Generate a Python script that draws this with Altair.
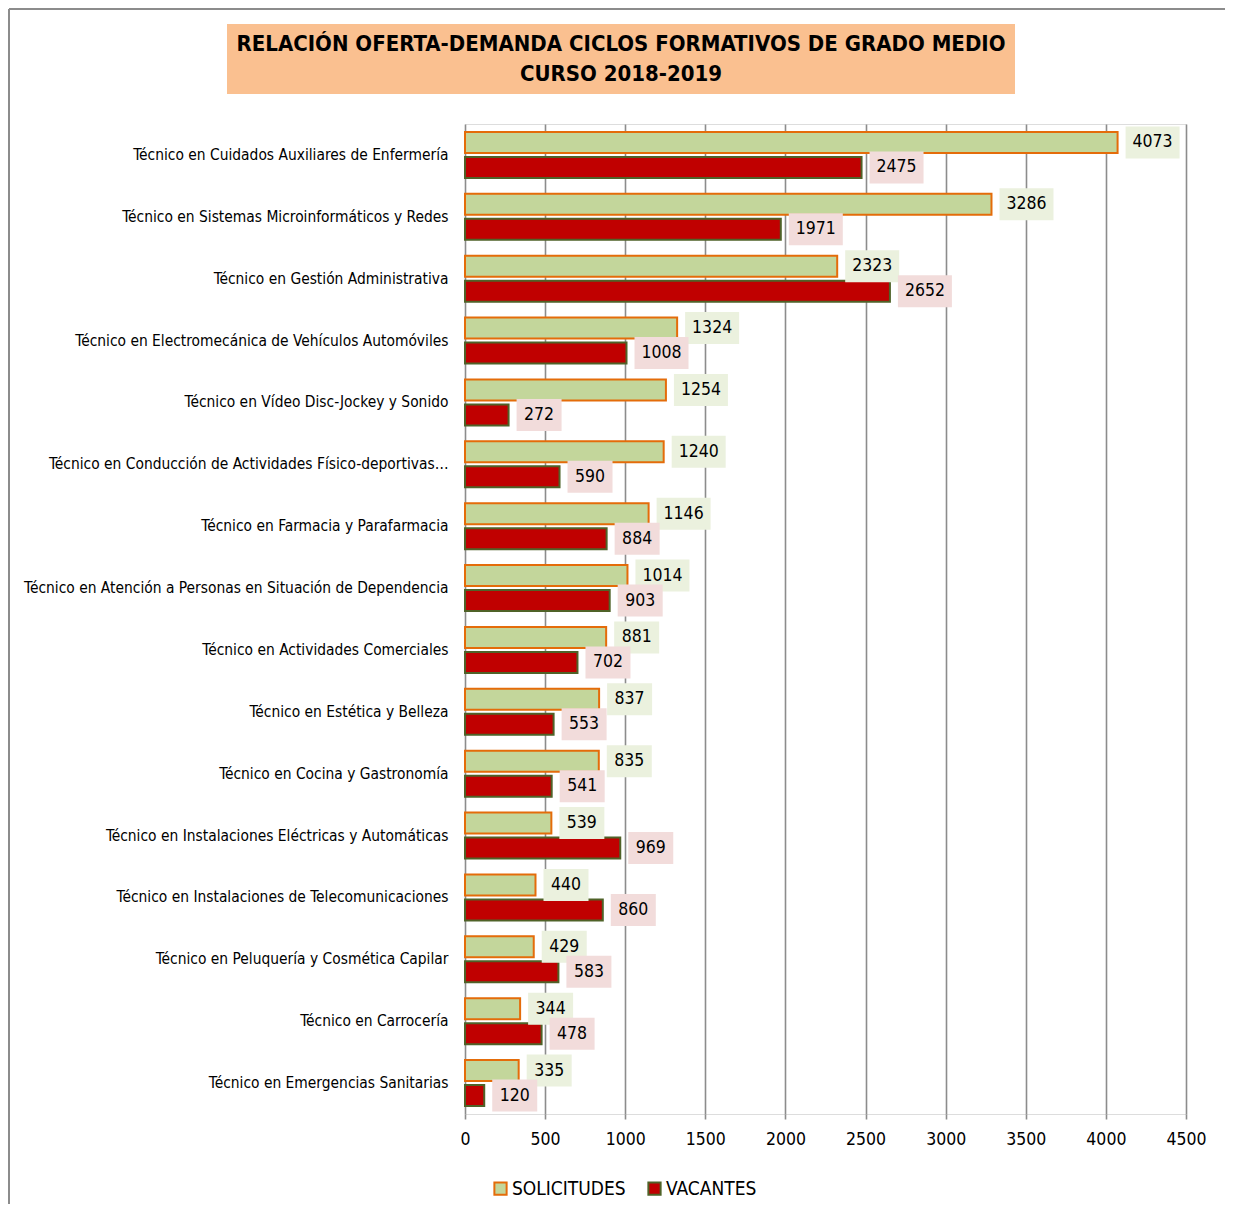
import altair as alt
import pandas as pd

categories = [
    "Técnico en Cuidados Auxiliares de Enfermería",
    "Técnico en Sistemas Microinformáticos y Redes",
    "Técnico en Gestión Administrativa",
    "Técnico en Electromecánica de Vehículos Automóviles",
    "Técnico en Vídeo Disc-Jockey y Sonido",
    "Técnico en Conducción de Actividades Físico-deportivas…",
    "Técnico en Farmacia y Parafarmacia",
    "Técnico en Atención a Personas en Situación de Dependencia",
    "Técnico en Actividades Comerciales",
    "Técnico en Estética y Belleza",
    "Técnico en Cocina y Gastronomía",
    "Técnico en Instalaciones Eléctricas y Automáticas",
    "Técnico en Instalaciones de Telecomunicaciones",
    "Técnico en Peluquería y Cosmética Capilar",
    "Técnico en Carrocería",
    "Técnico en Emergencias Sanitarias",
]
solicitudes = [4073, 3286, 2323, 1324, 1254, 1240, 1146, 1014, 881, 837, 835, 539, 440, 429, 344, 335]
vacantes = [2475, 1971, 2652, 1008, 272, 590, 884, 903, 702, 553, 541, 969, 860, 583, 478, 120]
series_names = ["SOLICITUDES", "VACANTES"]
x_ticks = [0, 500, 1000, 1500, 2000, 2500, 3000, 3500, 4000, 4500]
title_lines = ["RELACIÓN OFERTA-DEMANDA CICLOS FORMATIVOS DE GRADO MEDIO", "CURSO 2018-2019"]

rows = []
for c, s, v in zip(categories, solicitudes, vacantes):
    rows.append({"category": c, "series": "SOLICITUDES", "value": s})
    rows.append({"category": c, "series": "VACANTES", "value": v})
df = pd.DataFrame(rows)

FONT = "DejaVu Sans Condensed"
GREEN = "#C3D69B"
ORANGE = "#E46C0A"
RED = "#C00000"
OLIVE = "#4F6228"
GREEN_BOX = "#EBF1DE"
RED_BOX = "#F2DCDB"
GRID = "#8C8C8C"

W, H = 721, 990

y_enc = alt.Y(
    "category:N",
    sort=categories,
    scale=alt.Scale(paddingInner=0.25, paddingOuter=0.125),
    axis=alt.Axis(
        title=None, ticks=False, domain=False, grid=False,
        labelFont=FONT, labelFontSize=15.4, labelColor="#000000",
        labelPadding=17, labelLimit=460,
    ),
)
x_enc = alt.X(
    "value:Q",
    scale=alt.Scale(domain=[0, 4500], nice=False),
    axis=alt.Axis(
        title=None, values=x_ticks, format="d", grid=True, gridColor=GRID, gridWidth=1.6,
        domain=False, tickSize=5, tickColor=GRID, tickWidth=1.6,
        labelFont=FONT, labelFontSize=17.5, labelColor="#000000", labelPadding=11,
        labelFlush=False,
    ),
)

fill_enc = alt.Fill(
    "series:N",
    scale=alt.Scale(domain=series_names, range=[GREEN, RED]),
    legend=alt.Legend(
        title=None, orient="none", legendX=26, legendY=1055, direction="horizontal",
        symbolType="square", symbolSize=150, symbolStrokeWidth=2,
        labelFont=FONT, labelFontSize=19, labelColor="#000000", labelOffset=2,
        columnPadding=18,
    ),
)
stroke_enc = alt.Stroke(
    "series:N",
    scale=alt.Scale(domain=series_names, range=[ORANGE, OLIVE]),
    legend=None,
)

base = alt.Chart(df)
one = pd.DataFrame({"k": [0]})

layers = []

# outer frame (left and top edges)
layers.append(alt.Chart(one).mark_rule(color=GRID, strokeWidth=2).encode(
    x=alt.value(-456), y=alt.value(-115), y2=alt.value(1300)))
layers.append(alt.Chart(one).mark_rule(color=GRID, strokeWidth=2).encode(
    y=alt.value(-115), x=alt.value(-456), x2=alt.value(900)))

# title box
layers.append(alt.Chart(one).mark_rect(color="#FAC090").encode(
    x=alt.value(-238), x2=alt.value(550), y=alt.value(-100), y2=alt.value(-30)))
tdf = pd.DataFrame({"line": title_lines, "i": [0, 1]})
for i, yy in ((0, -80), (1, -50)):
    layers.append(alt.Chart(tdf).transform_filter(f"datum.i == {i}").mark_text(
        font=FONT, fontSize=22, fontWeight="bold", color="#000000",
        align="center", baseline="middle"
    ).encode(x=alt.value(156), y=alt.value(yy), text="line:N"))

OFF = 12.5
offsets = {"SOLICITUDES": -OFF, "VACANTES": OFF}
boxcol = {"SOLICITUDES": GREEN_BOX, "VACANTES": RED_BOX}

for s in series_names:
    layers.append(base.transform_filter(alt.datum.series == s).mark_bar(
        height=21, yOffset=offsets[s], strokeWidth=2
    ).encode(x=x_enc, y=y_enc, fill=fill_enc, stroke=stroke_enc))

for s in series_names:
    for cond, w in (("datum.value >= 1000", 54), ("datum.value < 1000", 45)):
        flt = f"datum.series == '{s}' && {cond}"
        box = base.transform_filter(flt).mark_bar(
            height=32, yOffset=offsets[s], xOffset=8, x2Offset=8 + w, color=boxcol[s]
        ).encode(x=alt.X("value:Q"), x2="value:Q", y=alt.Y("category:N", sort=categories))
        txt = base.transform_filter(flt).mark_text(
            font=FONT, fontSize=17.5, color="#000000", align="center", baseline="middle",
            dx=8 + w / 2, dy=offsets[s],
        ).encode(x=alt.X("value:Q"), y=alt.Y("category:N", sort=categories),
                 text=alt.Text("value:Q", format="d"))
        layers += [box, txt]

chart = alt.layer(*layers).properties(
    width=W, height=H,
    autosize=alt.AutoSizeParams(type="none"),
    padding={"left": 457, "top": 116, "right": 39, "bottom": 90},
).configure_view(stroke=None).configure(background="#FFFFFF")

chart.save("out.html", embed_options={"renderer": "svg", "actions": False})
